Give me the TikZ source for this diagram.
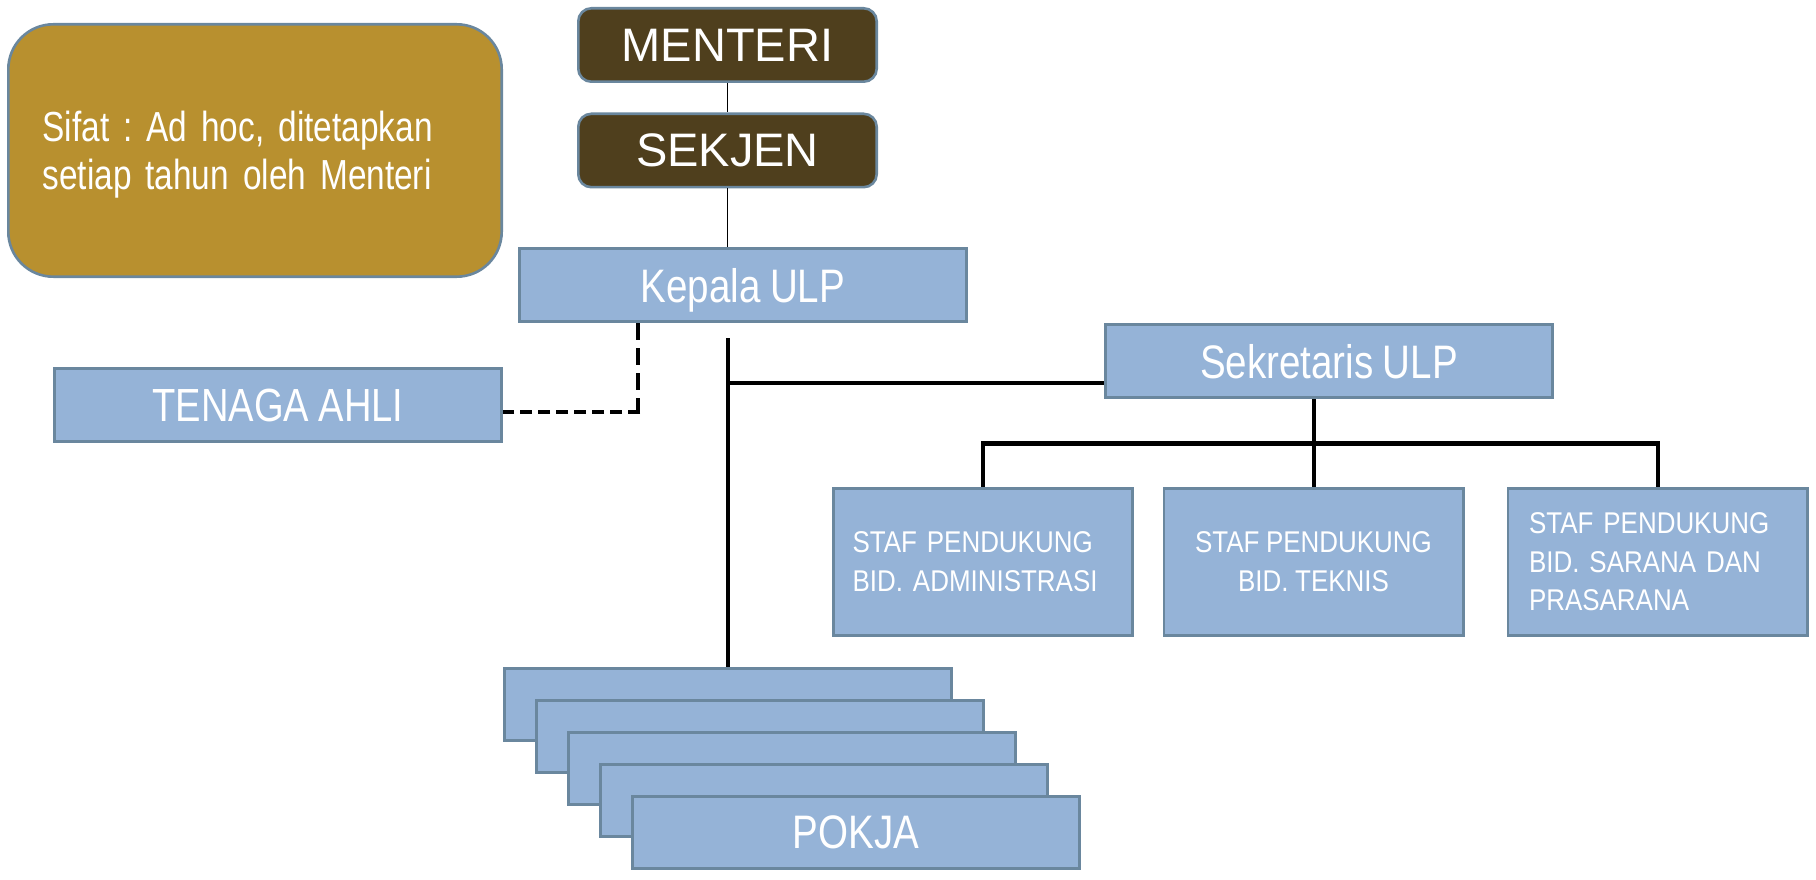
\documentclass[tikz,border=0pt]{standalone}
\usepackage{fontspec}
\setmainfont{Liberation Sans}
\newfontfamily\narrowfont[FakeStretch=0.82]{Liberation Sans}
\newfontfamily\sifatfont[FakeStretch=0.795]{Liberation Sans}
\newfontfamily\stafnarrowfont[FakeStretch=0.865]{Liberation Sans}
\newcommand{\narrowsp}{\frenchspacing\spaceskip=0.2em plus 0.05em minus 0.05em\relax}
\newcommand{\stafsp}{\frenchspacing\spaceskip=0.22em plus 0.05em minus 0.05em\relax}
\definecolor{boxblue}{HTML}{95B3D7}
\definecolor{boxedge}{HTML}{6A879E}
\definecolor{brownbox}{HTML}{4F3F1D}
\definecolor{goldbox}{HTML}{B8902F}
\tikzset{
  bluebox/.style={draw=boxedge, line width=2.6pt, fill=boxblue, text=white, inner sep=0pt,
    minimum width=447.4pt, minimum height=73.4pt},
  brownbox/.style={draw=boxedge, line width=2.6pt, fill=brownbox, text=white, inner sep=0pt,
    rounded corners=13pt, minimum width=298.4pt, minimum height=73.4pt,
    font=\fontsize{47}{54}\selectfont},
  stafbox/.style={bluebox, minimum width=299.4pt, minimum height=147.4pt,
    font=\stafnarrowfont\fontsize{30}{39}\selectfont\stafsp},
  bigtext/.style={font=\narrowfont\fontsize{47}{54}\selectfont\narrowsp, text depth=0pt},
  thinline/.style={draw=black, line width=1.8pt},
  thickline/.style={draw=black, line width=4pt},
  barline/.style={draw=black, line width=5pt},
}
\begin{document}
\begin{tikzpicture}[x=1pt,y=-1pt]
\useasboundingbox (0,0) rectangle (1816,880);

% info box
\node[draw=boxedge, line width=2.6pt, fill=goldbox, text=white, rounded corners=45pt,
  minimum width=493.4pt, minimum height=252.4pt, inner xsep=34pt, inner ysep=0pt,
  text width=425pt, align=left, text depth=47.8pt,
  font=\sifatfont\fontsize{42}{48}\selectfont\narrowsp]
  (sifat) at (255,150.5) {Sifat : Ad hoc, ditetapkan\\setiap tahun oleh Menteri};

% hierarchy
\node[brownbox] (menteri) at (727.5,45) {MENTERI};
\node[brownbox] (sekjen) at (727.5,150.5) {SEKJEN};
\node[bluebox, bigtext] (kepala) at (743,285) {Kepala ULP};
\node[bluebox, bigtext, font=\narrowfont\fontsize{46.5}{54}\selectfont\narrowsp] (tenaga) at (278,405) {TENAGA AHLI};
\node[bluebox, bigtext] (sekretaris) at (1329,361) {Sekretaris ULP};

\node[stafbox, align=left, text width=261pt] (staf1) at (983,562)
  {STAF PENDUKUNG\\BID. ADMINISTRASI};
\node[stafbox, align=center] (staf2) at (1313.5,562)
  {STAF PENDUKUNG\\BID. TEKNIS};
\node[stafbox, align=left, text width=257pt, font=\stafnarrowfont\fontsize{30}{38.5}\selectfont\stafsp] (staf3) at (1657.5,562)
  {STAF PENDUKUNG\\BID. SARANA DAN\\PRASARANA};

% pokja stack
\node[bluebox, minimum height=72.4pt] (pokja1) at (728,704.5) {};
\node[bluebox, minimum height=72.4pt] (pokja2) at (760,736.5) {};
\node[bluebox, minimum height=72.4pt] (pokja3) at (792,768.5) {};
\node[bluebox, minimum height=72.4pt] (pokja4) at (824,800.5) {};
\node[bluebox, minimum height=72.4pt, bigtext] (pokja5) at (856,832.5) {POKJA};

% connectors
\draw[thinline] (menteri.south) -- (sekjen.north);
\draw[thinline] (sekjen.south) -- (sekjen.south |- kepala.north);

\coordinate (trunktop) at (728,338);
\coordinate (branch) at (728,383);
\draw[thickline] (trunktop) -- (pokja1.north);
\draw[thickline] (branch) -- (branch -| sekretaris.west);

\coordinate (bar) at (1313.5,443);
\draw[thickline] (sekretaris.south -| bar) -- (staf2.north);
\draw[barline] ([xshift=-2pt]staf1.north |- bar) -- ([xshift=2pt]staf3.north |- bar);
\draw[thickline] (staf1.north |- bar) -- (staf1.north);
\draw[thickline] (staf3.north |- bar) -- (staf3.north);

\coordinate (dashcorner) at (638,412);
\draw[thickline, dash pattern=on 17pt off 8pt] (dashcorner |- kepala.south) -- ([yshift=2pt]dashcorner);
\draw[thickline, dash pattern=on 12pt off 6pt] ([xshift=2pt]dashcorner) -- (dashcorner -| tenaga.east);
\end{tikzpicture}
\end{document}
